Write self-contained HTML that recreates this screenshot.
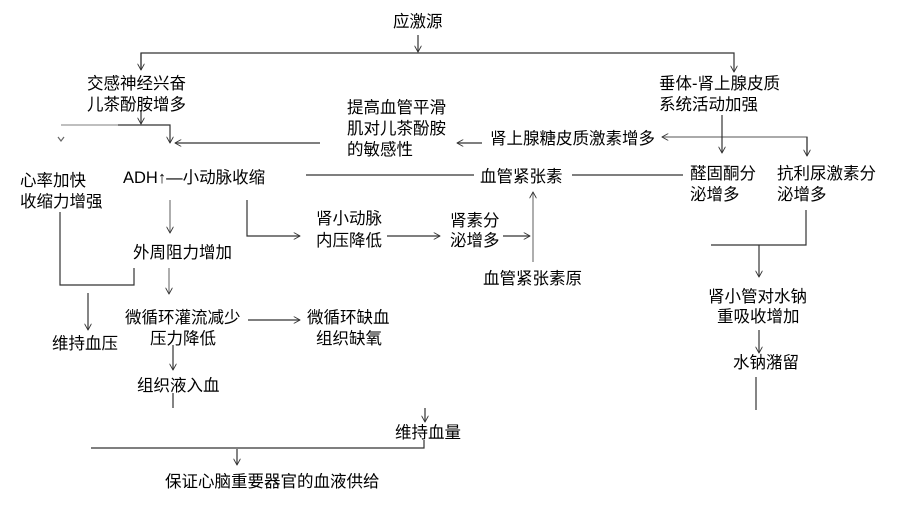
<!DOCTYPE html>
<html><head><meta charset="utf-8"><style>
html,body{margin:0;padding:0;background:#fff;}
svg{display:block;}
text{font-family:"Liberation Sans","Noto Sans CJK SC",sans-serif;font-size:16.5px;fill:#000;}
</style></head><body>
<svg width="900" height="509" viewBox="0 0 900 509" xmlns="http://www.w3.org/2000/svg">
<defs>
<marker id="a" viewBox="0 0 10 10" refX="9" refY="5" markerWidth="7" markerHeight="7" orient="auto-start-reverse" markerUnits="userSpaceOnUse">
<path d="M0,0 L9,5 L0,10" fill="none" stroke="#333" stroke-width="1.3"/></marker>
</defs>
<g stroke="#333" stroke-width="1.2" fill="none">
<line x1="418" y1="35" x2="418" y2="52" marker-end="url(#a)"/>
<polyline points="141,70 141,53 734,53 734,72" marker-end="url(#a)"/>
<line x1="141" y1="53" x2="141" y2="70" marker-end="url(#a)"/>
<line x1="141" y1="110" x2="141" y2="124" marker-end="url(#a)"/>
<line x1="61" y1="125" x2="118" y2="125" stroke="#999"/>
<polyline points="118,125 170,125 170,143" marker-end="url(#a)"/>
<path d="M58,137 L61,141 L64,137" stroke="#666"/>
<line x1="320" y1="143" x2="175" y2="143" marker-end="url(#a)"/>
<line x1="482" y1="143" x2="457" y2="143" marker-end="url(#a)"/>
<polyline points="807,156 807,137 662,137" marker-end="url(#a)" stroke="#777"/>
<line x1="807" y1="137" x2="807" y2="156" marker-end="url(#a)"/>
<line x1="722" y1="115" x2="722" y2="153" marker-end="url(#a)"/>
<polyline points="806,210 806,245 711,245"/>
<line x1="759" y1="245" x2="759" y2="277" marker-end="url(#a)"/>
<line x1="759" y1="330" x2="759" y2="353" marker-end="url(#a)"/>
<line x1="756" y1="377" x2="756" y2="410"/>
<line x1="306" y1="175" x2="474" y2="175"/>
<line x1="572" y1="175" x2="683" y2="175"/>
<line x1="170" y1="200" x2="170" y2="233" marker-end="url(#a)" stroke="#777"/>
<polyline points="247,200 247,236 300,236" marker-end="url(#a)"/>
<line x1="387" y1="236" x2="440" y2="236" marker-end="url(#a)"/>
<line x1="503" y1="236" x2="530" y2="236" marker-end="url(#a)"/>
<line x1="533" y1="262" x2="533" y2="192" marker-end="url(#a)" stroke="#777"/>
<polyline points="60,212 60,285 134,285 134,268"/>
<line x1="88" y1="293" x2="88" y2="330" marker-end="url(#a)"/>
<line x1="169" y1="268" x2="169" y2="294" marker-end="url(#a)" stroke="#777"/>
<line x1="248" y1="320" x2="300" y2="320" marker-end="url(#a)"/>
<line x1="173" y1="345" x2="173" y2="370" marker-end="url(#a)"/>
<line x1="173" y1="393" x2="173" y2="408"/>
<line x1="425" y1="408" x2="425" y2="422" marker-end="url(#a)"/>
<polyline points="91,448 424,448 424,440"/>
<line x1="237" y1="449" x2="237" y2="465" marker-end="url(#a)"/>
</g>
<g>
<text x="393" y="27">应激源</text>
<text x="87" y="89">交感神经兴奋</text>
<text x="87" y="110">儿茶酚胺增多</text>
<text x="659" y="89">垂体-肾上腺皮质</text>
<text x="659" y="110">系统活动加强</text>
<text x="347" y="113">提高血管平滑</text>
<text x="347" y="134">肌对儿茶酚胺</text>
<text x="347" y="155">的敏感性</text>
<text x="490" y="144">肾上腺糖皮质激素增多</text>
<text x="20" y="186">心率加快</text>
<text x="20" y="207">收缩力增强</text>
<text x="123" y="183">ADH↑—小动脉收缩</text>
<text x="480" y="182">血管紧张素</text>
<text x="690" y="179">醛固酮分</text>
<text x="690" y="200">泌增多</text>
<text x="777" y="179">抗利尿激素分</text>
<text x="777" y="200">泌增多</text>
<text x="316" y="224">肾小动脉</text>
<text x="316" y="246">内压降低</text>
<text x="450" y="226">肾素分</text>
<text x="450" y="246">泌增多</text>
<text x="133" y="258">外周阻力增加</text>
<text x="483" y="284">血管紧张素原</text>
<text x="708" y="302">肾小管对水钠</text>
<text x="717" y="322">重吸收增加</text>
<text x="733" y="368">水钠潴留</text>
<text x="125" y="323">微循环灌流减少</text>
<text x="150" y="344">压力降低</text>
<text x="307" y="323">微循环缺血</text>
<text x="316" y="344">组织缺氧</text>
<text x="52" y="349">维持血压</text>
<text x="137" y="391">组织液入血</text>
<text x="395" y="438">维持血量</text>
<text x="165" y="487">保证心脑重要器官的血液供给</text>
</g>
</svg>
</body></html>
